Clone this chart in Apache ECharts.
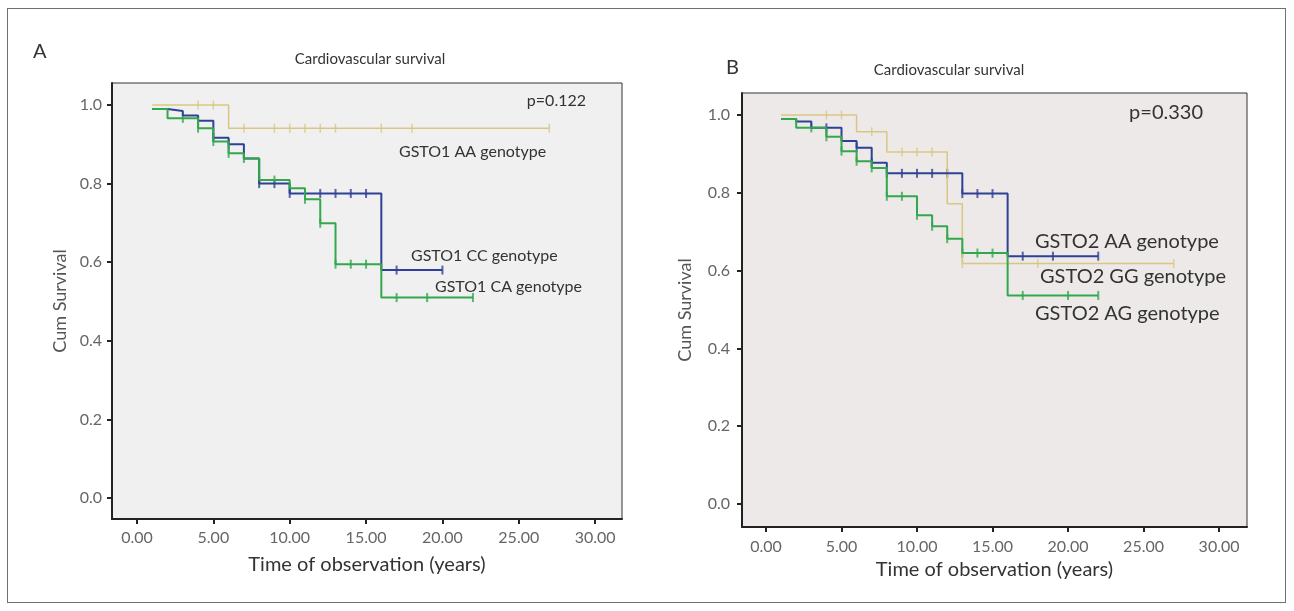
<!DOCTYPE html>
<html>
<head>
<meta charset="utf-8">
<script src="https://cdn.jsdelivr.net/npm/echarts@6/dist/echarts.min.js"></script>
<style>
  html, body { margin: 0; padding: 0; background: #fff; }
  #chart { width: 1294px; height: 611px; }
  .frame {
    position: absolute; left: 7px; top: 8px; width: 1277px; height: 593px;
    border: 1.5px solid #707070; pointer-events: none;
  }
</style>
</head>
<body>
<div id="chart"></div>
<div class="frame"></div>
<script>
const xTicks = [0, 5, 10, 15, 20, 25, 30]
const yTicks = [0, 0.2, 0.4, 0.6, 0.8, 1.0]

// panel A — GSTO1
const gsto1AATimes = [1, 6]
const gsto1AASurv = [1.0, 0.941]
const gsto1AAEnd = 27
const gsto1AACensored = [4, 5, 7, 9, 10, 11, 12, 13, 16, 18, 27]

const gsto1CCTimes = [1, 2, 3, 4, 5, 6, 7, 8, 10, 16]
const gsto1CCSurv = [0.99, 0.985, 0.973, 0.96, 0.917, 0.9, 0.864, 0.8, 0.775, 0.58]
const gsto1CCEnd = 20
const gsto1CCCensored = [4, 5, 6, 8, 9, 10, 11, 12, 13, 14, 15, 17, 20]

const gsto1CATimes = [1, 2, 4, 5, 6, 7, 8, 10, 11, 12, 13, 16]
const gsto1CASurv = [0.99, 0.966, 0.941, 0.907, 0.877, 0.864, 0.809, 0.788, 0.76, 0.699, 0.595, 0.51]
const gsto1CAEnd = 22
const gsto1CACensored = [3, 4, 5, 6, 7, 8, 9, 10, 11, 12, 13, 14, 15, 17, 19, 22]

// panel B — GSTO2
const gsto2GGTimes = [1, 6, 8, 12, 13]
const gsto2GGSurv = [1.0, 0.957, 0.905, 0.772, 0.618]
const gsto2GGEnd = 27
const gsto2GGCensored = [4, 5, 7, 9, 10, 11, 13, 18, 27]

const gsto2AATimes = [1, 2, 3, 5, 6, 7, 8, 13, 16]
const gsto2AASurv = [0.99, 0.983, 0.967, 0.933, 0.916, 0.877, 0.85, 0.798, 0.637]
const gsto2AAEnd = 22
const gsto2AACensored = [4, 6, 7, 8, 9, 10, 11, 12, 13, 14, 15, 17, 19, 22]

const gsto2AGTimes = [1, 2, 4, 5, 6, 7, 8, 10, 11, 12, 13, 16]
const gsto2AGSurv = [0.99, 0.967, 0.944, 0.907, 0.881, 0.864, 0.791, 0.742, 0.714, 0.682, 0.645, 0.536]
const gsto2AGEnd = 22
const gsto2AGCensored = [3, 4, 5, 6, 7, 8, 9, 10, 11, 12, 13, 14, 15, 17, 20, 22]

const yellow = '#d8c784'
const blue = '#2f4196'
const green = '#33a74c'
const font = 'Lato, "Open Sans", sans-serif'

function stepData(times, surv, end) {
  const pts = times.map((t, i) => [t, surv[i]])
  pts.push([end, surv[surv.length - 1]])
  return pts
}

function survivalAt(times, surv, t) {
  let s = surv[0]
  times.forEach((ti, i) => { if (t >= ti) s = surv[i] })
  return s
}

function curve(panel, times, surv, end, censored, color, width) {
  return [
    {
      type: 'line', step: 'end', xAxisIndex: panel, yAxisIndex: panel,
      data: stepData(times, surv, end), symbol: 'none',
      lineStyle: { color, width }
    },
    {
      type: 'scatter', xAxisIndex: panel, yAxisIndex: panel,
      data: censored.map((t) => [t, survivalAt(times, surv, t)]),
      symbol: 'rect', symbolSize: [width, 9], itemStyle: { color }
    }
  ]
}

function xAxis(panel, min, max, size, margin, gap) {
  return {
    type: 'value', gridIndex: panel, min, max,
    name: 'Time of observation (years)', nameLocation: 'middle', nameGap: gap,
    nameTextStyle: { color: '#333', fontSize: 20, fontFamily: font },
    axisLine: { onZero: false, lineStyle: { color: '#222', width: 2 } },
    axisTick: { customValues: xTicks, length: 5, lineStyle: { color: '#222', width: 2 } },
    axisLabel: {
      customValues: xTicks, color: '#666', fontSize: size, fontFamily: font, margin,
      formatter: (v) => v.toFixed(2)
    },
    splitLine: { show: false }
  }
}

function yAxis(panel, min, max, size, margin, gap) {
  return {
    type: 'value', gridIndex: panel, min, max,
    name: 'Cum Survival', nameLocation: 'middle', nameGap: gap,
    nameTextStyle: { color: '#555', fontSize: 18, fontFamily: font },
    axisLine: { onZero: false, lineStyle: { color: '#222', width: 2 } },
    axisTick: { customValues: yTicks, length: 5, lineStyle: { color: '#222', width: 2 } },
    axisLabel: {
      customValues: yTicks, color: '#666', fontSize: size, fontFamily: font, margin,
      formatter: (v) => v.toFixed(1)
    },
    splitLine: { show: false }
  }
}

function label(x, y, text, size, align) {
  return {
    type: 'text', x, y, z: 10,
    style: { text, fill: '#333', font: size + 'px ' + font, align: align || 'left', verticalAlign: 'middle' }
  }
}

const chart = echarts.init(document.getElementById('chart'))

chart.setOption({
  animation: false,
  grid: [
    { left: 112, top: 83, width: 510, height: 436, show: true, backgroundColor: '#f0f0f0', borderColor: '#333', borderWidth: 1 },
    { left: 742, top: 93, width: 505, height: 434, show: true, backgroundColor: '#ece9e8', borderColor: '#333', borderWidth: 1 }
  ],
  xAxis: [
    xAxis(0, -1.637, 31.76, 16, 11, 36),
    xAxis(1, -1.589, 31.85, 16, 12, 32)
  ],
  yAxis: [
    yAxis(0, -0.0534, 1.056, 16, 10, 43),
    yAxis(1, -0.0594, 1.0566, 16, 12, 48)
  ],
  series: [
    ...curve(0, gsto1AATimes, gsto1AASurv, gsto1AAEnd, gsto1AACensored, yellow, 1.5),
    ...curve(0, gsto1CCTimes, gsto1CCSurv, gsto1CCEnd, gsto1CCCensored, blue, 2),
    ...curve(0, gsto1CATimes, gsto1CASurv, gsto1CAEnd, gsto1CACensored, green, 2),
    ...curve(1, gsto2GGTimes, gsto2GGSurv, gsto2GGEnd, gsto2GGCensored, yellow, 1.5),
    ...curve(1, gsto2AATimes, gsto2AASurv, gsto2AAEnd, gsto2AACensored, blue, 2),
    ...curve(1, gsto2AGTimes, gsto2AGSurv, gsto2AGEnd, gsto2AGCensored, green, 2)
  ],
  graphic: [
    label(33, 52, 'A', 20),
    label(370, 59, 'Cardiovascular survival', 15, 'center'),
    label(726, 68, 'B', 20),
    label(949, 70, 'Cardiovascular survival', 15, 'center'),
    label(586, 101, 'p=0.122', 16, 'right'),
    label(399, 152, 'GSTO1 AA genotype', 16),
    label(411, 256, 'GSTO1 CC genotype', 16),
    label(435, 287, 'GSTO1 CA genotype', 16),
    label(1203, 113, 'p=0.330', 20, 'right'),
    label(1035, 242, 'GSTO2 AA genotype', 20),
    label(1040, 277, 'GSTO2 GG genotype', 20),
    label(1035, 314, 'GSTO2 AG genotype', 20)
  ]
})
</script>
</body>
</html>
